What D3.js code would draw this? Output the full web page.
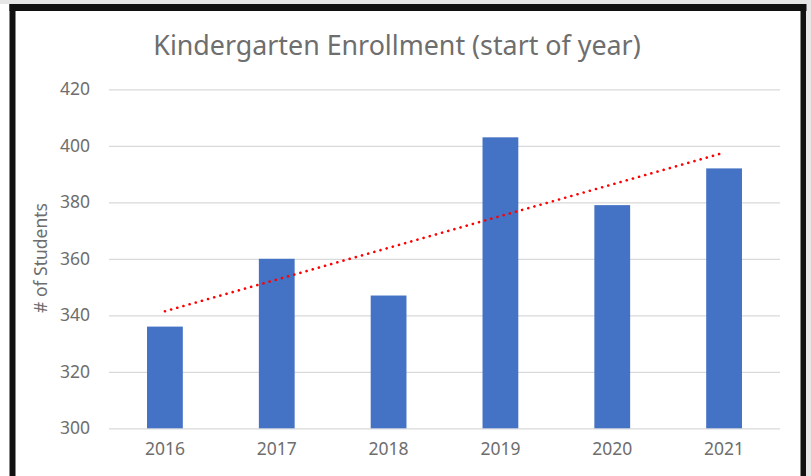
<!DOCTYPE html>
<html>
<head>
<meta charset="utf-8">
<script src="https://cdn.jsdelivr.net/npm/d3@7/dist/d3.min.js"></script>
<style>
  body { margin: 0; background: #fff; }
  svg { display: block; font-family: "Noto Sans", sans-serif; }
</style>
</head>
<body>
<div id="chart"></div>
<script>
// values
const years = ['2016', '2017', '2018', '2019', '2020', '2021'];
const students = [336, 360, 347, 403, 379, 392];
const yTicks = [300, 320, 340, 360, 380, 400, 420];

const width = 811;
const height = 476;
const plot = { left: 109, right: 780, top: 89.3, bottom: 428.3 };
const textColor = '#6e6e6e';

const svg = d3.select('#chart').append('svg')
  .attr('width', width)
  .attr('height', height);

// screenshot frame: light strip + thick black border
svg.append('rect').attr('x', 0).attr('y', 0).attr('width', width).attr('height', 4).attr('fill', '#e6e6e6');
svg.append('rect').attr('x', 806).attr('y', 0).attr('width', 5).attr('height', height).attr('fill', '#e6e6e6');
svg.append('rect').attr('x', 9.5).attr('y', 4).attr('width', 797).attr('height', 7).attr('fill', '#111');
svg.append('rect').attr('x', 9.5).attr('y', 4).attr('width', 6).attr('height', height).attr('fill', '#111');
svg.append('rect').attr('x', 800.5).attr('y', 4).attr('width', 5.5).attr('height', height).attr('fill', '#111');

const x = d3.scaleBand().domain(years).range([plot.left, plot.right]).paddingInner(0.68).paddingOuter(0.34);
const y = d3.scaleLinear().domain([300, 420]).range([plot.bottom, plot.top]);

// gridlines + y tick labels
const yAxis = svg.append('g')
  .attr('transform', `translate(${plot.left},0)`)
  .call(d3.axisLeft(y).tickValues(yTicks).tickSize(-(plot.right - plot.left)).tickPadding(19))
  .call((g) => g.select('.domain').remove());
yAxis.selectAll('.tick line').attr('stroke', '#d9d9d9').attr('stroke-width', 1.3);
yAxis.selectAll('.tick text').attr('fill', textColor).attr('font-size', 17.5).attr('font-family', '"Noto Sans", sans-serif');

// bars
svg.append('g').selectAll('rect')
  .data(years.map((yr, i) => ({ year: yr, value: students[i] })))
  .join('rect')
  .attr('x', (d) => x(d.year))
  .attr('y', (d) => y(d.value))
  .attr('width', x.bandwidth())
  .attr('height', (d) => y(300) - y(d.value))
  .attr('fill', '#4472c4');

// x labels
const xAxis = svg.append('g')
  .attr('transform', `translate(0,${plot.bottom})`)
  .call(d3.axisBottom(x).tickSize(0).tickPadding(14))
  .call((g) => g.select('.domain').remove());
xAxis.selectAll('.tick text').attr('fill', textColor).attr('font-size', 17.5).attr('font-family', '"Noto Sans", sans-serif');

// linear trendline (least squares over the bars)
const idx = students.map((_, i) => i);
const mx = d3.mean(idx);
const my = d3.mean(students);
const slope = d3.sum(idx, (i) => (i - mx) * (students[i] - my)) / d3.sum(idx, (i) => (i - mx) ** 2);
const fit = (i) => my + slope * (i - mx);
const center = (i) => x(years[i]) + x.bandwidth() / 2;

svg.append('line')
  .attr('x1', center(0)).attr('y1', y(fit(0)))
  .attr('x2', center(years.length - 1)).attr('y2', y(fit(years.length - 1)))
  .attr('stroke', '#ff0000')
  .attr('stroke-width', 2.6)
  .attr('stroke-linecap', 'round')
  .attr('stroke-dasharray', '0.1 6.3');

// title
svg.append('text')
  .attr('x', 397)
  .attr('y', 55)
  .attr('text-anchor', 'middle')
  .attr('fill', textColor)
  .attr('font-size', 26.8)
  .text('Kindergarten Enrollment (start of year)');

// y-axis title
svg.append('text')
  .attr('transform', 'translate(47,258) rotate(-90)')
  .attr('text-anchor', 'middle')
  .attr('fill', textColor)
  .attr('font-size', 17.5)
  .text('# of Students');
</script>
</body>
</html>
